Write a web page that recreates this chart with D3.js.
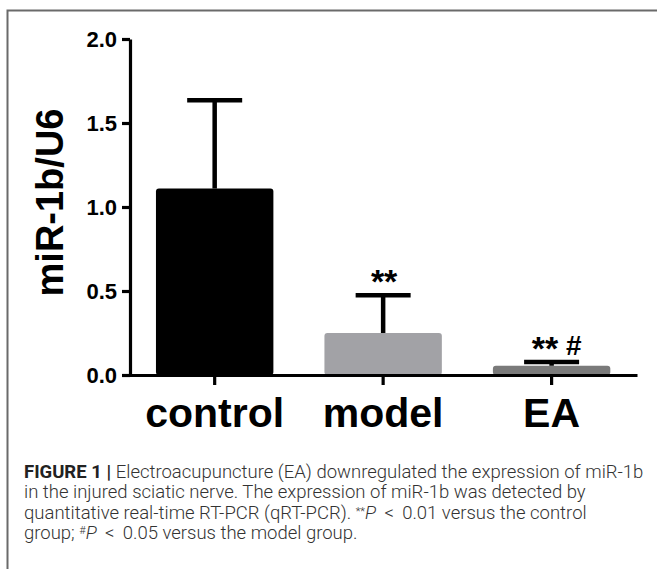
<!DOCTYPE html>
<html>
<head>
<meta charset="utf-8">
<script src="https://cdn.jsdelivr.net/npm/d3@7"></script>
<style>
  html, body { margin: 0; padding: 0; background: #fff; }
  svg { display: block; }
</style>
</head>
<body>
<script>
// ---- data ----
const categories = ["control", "model", "EA"];
const means = [1.11, 0.25, 0.055];
const errors = [0.525, 0.225, 0.023];
const marksStar = ["", "**", "**"];
const marksHash = ["", "", "#"];
const barColors = ["#000000", "#a2a2a6", "#7a7a7a"];
const yTicks = [0, 0.5, 1.0, 1.5, 2.0];
const yLabel = "miR-1b/U6";

const W = 657, H = 569;
const svg = d3.select("body").append("svg").attr("width", W).attr("height", H);
svg.append("rect").attr("width", W).attr("height", H).attr("fill", "#fff");

// frame
svg.append("path").attr("d", `M7.5,${H} V10.5 H${W}`)
  .attr("fill", "none").attr("stroke", "#6a6a6a").attr("stroke-width", 2);

const y = d3.scaleLinear().domain([0, 2]).range([375, 39]);
const x = d3.scaleBand().domain(categories).range([122, 637])
  .paddingInner(0.303).paddingOuter(0.18).align(0.56);

const g = svg.append("g");

// bars
g.selectAll("rect.bar").data(categories).join("rect")
  .attr("class", "bar")
  .attr("x", d => x(d))
  .attr("width", x.bandwidth())
  .attr("y", (d, i) => y(means[i]))
  .attr("height", (d, i) => y(0) - y(means[i]))
  .attr("rx", 3)
  .attr("fill", (d, i) => barColors[i]);

// error bars
const capW = 55;
const eb = g.selectAll("g.eb").data(categories).join("g").attr("class", "eb");
eb.append("line")
  .attr("x1", d => x(d) + x.bandwidth() / 2)
  .attr("x2", d => x(d) + x.bandwidth() / 2)
  .attr("y1", (d, i) => y(means[i]))
  .attr("y2", (d, i) => y(means[i] + errors[i]))
  .attr("stroke", "#000").attr("stroke-width", 4.5);
eb.append("line")
  .attr("x1", d => x(d) + x.bandwidth() / 2 - capW / 2)
  .attr("x2", d => x(d) + x.bandwidth() / 2 + capW / 2)
  .attr("y1", (d, i) => y(means[i] + errors[i]))
  .attr("y2", (d, i) => y(means[i] + errors[i]))
  .attr("stroke", "#000").attr("stroke-width", 4.5);

// significance marks
const mk = g.selectAll("text.mark").data(categories).join("text")
  .attr("class", "mark")
  .attr("x", (d, i) => x(d) + x.bandwidth() / 2 + (marksHash[i] ? 5 : 1))
  .attr("y", (d, i) => y(means[i] + errors[i]) - 2)
  .attr("text-anchor", "middle")
  .attr("font-family", "Liberation Sans, Arial, sans-serif")
  .attr("font-weight", "bold")
  .attr("font-size", 34);
mk.append("tspan").text((d, i) => marksStar[i]);
mk.append("tspan").attr("font-size", 28).attr("dy", -5)
  .text((d, i) => marksHash[i] ? "\u00a0" + marksHash[i] : "");

// y axis
const yAxis = d3.axisLeft(y).tickValues(yTicks).tickFormat(d3.format(".1f"))
  .tickSize(8).tickSizeOuter(0).tickPadding(5);
const ya = svg.append("g").attr("transform", "translate(130,0)").call(yAxis);
ya.select(".domain").attr("stroke", "#000").attr("stroke-width", 3.2);
ya.selectAll(".tick line").attr("stroke", "#000").attr("stroke-width", 3.2);
ya.selectAll(".tick text")
  .attr("font-family", "Liberation Sans, Arial, sans-serif")
  .attr("font-weight", "bold").attr("font-size", 22).attr("fill", "#000");

// x axis
const xAxis = d3.axisBottom(x).tickSize(10).tickSizeOuter(0).tickPadding(12);
const xa = svg.append("g").attr("transform", `translate(0,${y(0)})`).call(xAxis);
xa.select(".domain").attr("stroke", "#000").attr("stroke-width", 3.2);
xa.selectAll(".tick line").attr("stroke", "#000").attr("stroke-width", 3.2);
xa.selectAll(".tick text")
  .attr("font-family", "Liberation Sans, Arial, sans-serif")
  .attr("font-weight", "bold").attr("font-size", 41).attr("fill", "#000")
  .attr("dy", null).attr("y", 52);

// y label
svg.append("text")
  .attr("transform", `translate(63,${(107 + 298) / 2}) rotate(-90)`)
  .attr("text-anchor", "middle")
  .attr("font-family", "Liberation Sans, Arial, sans-serif")
  .attr("font-weight", "bold").attr("font-size", 38)
  .text(yLabel);

// caption
const cap = svg.append("text")
  .attr("font-family", "Roboto, Liberation Sans, sans-serif")
  .attr("font-size", 18.5).attr("font-weight", 300).attr("fill", "#333");
const lineX = 24, lineY0 = 478, lh = 20.3;
cap.append("tspan").attr("x", lineX).attr("y", lineY0)
  .attr("font-weight", 700).attr("fill", "#222").text("FIGURE 1 | ");
cap.append("tspan").text("Electroacupuncture (EA) downregulated the expression of miR-1b");
cap.append("tspan").attr("x", lineX).attr("y", lineY0 + lh)
  .text("in the injured sciatic nerve. The expression of miR-1b was detected by");
cap.append("tspan").attr("x", lineX).attr("y", lineY0 + 2 * lh)
  .text("quantitative real-time RT-PCR (qRT-PCR). ");
cap.append("tspan").attr("font-size", 11).attr("dy", -4).text("**");
cap.append("tspan").attr("font-style", "italic").attr("dy", 4).text("P");
cap.append("tspan").text(" \u2009<\u2009 0.01 versus the control");
cap.append("tspan").attr("x", lineX).attr("y", lineY0 + 3 * lh).text("group; ");
cap.append("tspan").attr("font-size", 11).attr("dy", -5).text("#");
cap.append("tspan").attr("font-style", "italic").attr("dy", 5).text("P");
cap.append("tspan").text(" \u2009<\u2009 0.05 versus the model group.");
</script>
</body>
</html>
